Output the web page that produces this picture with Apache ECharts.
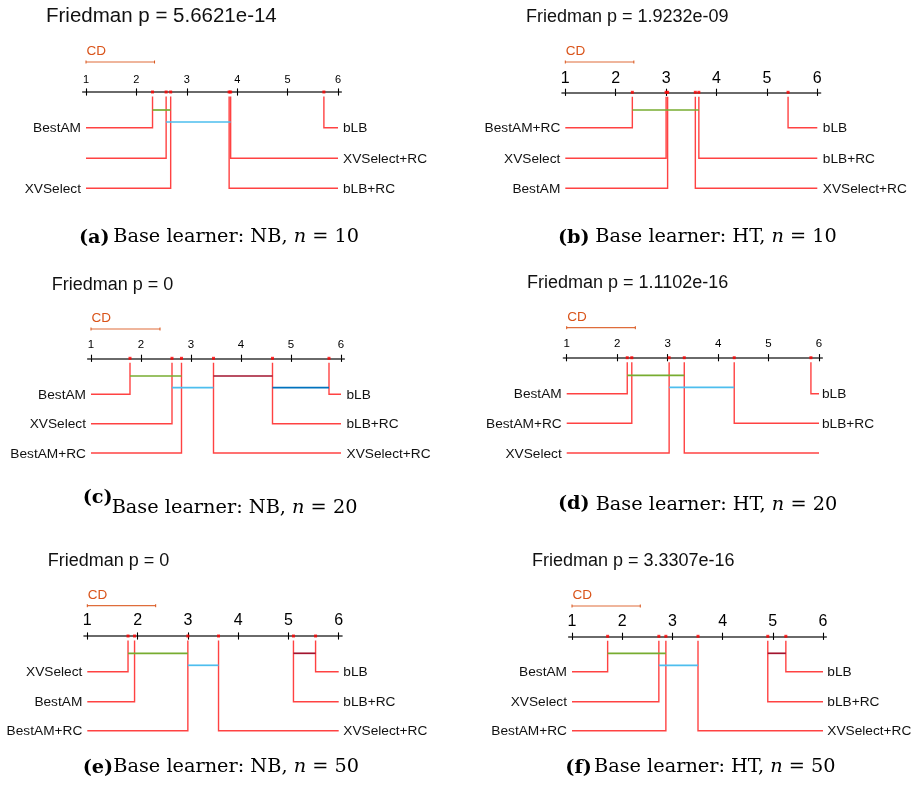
<!DOCTYPE html>
<html>
<head>
<meta charset="utf-8">
<script src="https://cdn.jsdelivr.net/npm/echarts@6/dist/echarts.min.js"></script>
<style>
  html, body { margin: 0; padding: 0; background: #ffffff; }
  #chart { width: 916px; height: 791px; }
</style>
</head>
<body>
<div id="chart"></div>
<script>
// ---- Data ---------------------------------------------------------------
const tags = ['(a)', '(b)', '(c)', '(d)', '(e)', '(f)'];
const learners = ['NB', 'HT', 'NB', 'HT', 'NB', 'HT'];
const sampleSizes = [10, 10, 20, 20, 50, 50];
const friedmanP = ['5.6621e-14', '1.9232e-09', '0', '1.1102e-16', '0', '3.3307e-16'];
const tickValues = [1, 2, 3, 4, 5, 6];
const criticalDiff = [1.36, 1.36, 1.38, 1.36, 1.36, 1.36];

// methods listed by ascending average rank; cliques are index pairs [first, last]
const methodsA = ['BestAM', '', 'XVSelect', 'bLB+RC', 'XVSelect+RC', 'bLB'];
const ranksA = [2.32, 2.59, 2.68, 3.84, 3.87, 5.72];
const cliquesA = [[0, 2], [1, 4]];

const methodsB = ['BestAM+RC', 'XVSelect', 'BestAM', 'XVSelect+RC', 'bLB+RC', 'bLB'];
const ranksB = [2.33, 3.00, 3.03, 3.58, 3.65, 5.42];
const cliquesB = [[0, 4]];

const methodsC = ['BestAM', 'XVSelect', 'BestAM+RC', 'XVSelect+RC', 'bLB+RC', 'bLB'];
const ranksC = [1.78, 2.62, 2.81, 3.45, 4.63, 5.76];
const cliquesC = [[0, 2], [1, 3], [3, 4], [4, 5]];

const methodsD = ['BestAM', 'BestAM+RC', 'XVSelect', '', 'bLB+RC', 'bLB'];
const ranksD = [2.20, 2.29, 3.03, 3.33, 4.32, 5.84];
const cliquesD = [[0, 3], [2, 4]];

const methodsE = ['XVSelect', 'BestAM', 'BestAM+RC', 'XVSelect+RC', 'bLB+RC', 'bLB'];
const ranksE = [1.81, 1.94, 3.00, 3.61, 5.10, 5.54];
const cliquesE = [[0, 2], [2, 3], [4, 5]];

const methodsF = ['BestAM', 'XVSelect', 'BestAM+RC', 'XVSelect+RC', 'bLB+RC', 'bLB'];
const ranksF = [1.71, 2.73, 2.87, 3.51, 4.90, 5.26];
const cliquesF = [[0, 2], [1, 3], [4, 5]];

const allMethods = [methodsA, methodsB, methodsC, methodsD, methodsE, methodsF];
const allRanks = [ranksA, ranksB, ranksC, ranksD, ranksE, ranksF];
const allCliques = [cliquesA, cliquesB, cliquesC, cliquesD, cliquesE, cliquesF];

// ---- Layout (page pixels) ------------------------------------------------
const panels = [
  { x1: 86,    x6: 338,   axisY: 92,    tickSize: 11,   tickMargin: 6.5,
    titleX: 46,    titleY: 16.5,  titleSize: 20.5, cdBarY: 62,
    rows: [127.7, 158.3, 188.3], levels: [110, 122], gapR: 5,
    tagX: 79,    tagY: 237.5, textX: 113.3, textY: 237 },
  { x1: 565.3, x6: 817.3, axisY: 92.3,  tickSize: 16,   tickMargin: 6,
    titleX: 526,   titleY: 17.2,  titleSize: 18,   cdBarY: 62,
    rows: [127.7, 158.3, 188.3], levels: [110, 122], gapR: 5.5,
    tagX: 558,   tagY: 237.5, textX: 595.3, textY: 237 },
  { x1: 91,    x6: 341,   axisY: 358.3, tickSize: 11.5, tickMargin: 7,
    titleX: 51.7,  titleY: 284.8, titleSize: 18,   cdBarY: 329,
    rows: [394.3, 423.7, 453], levels: [376, 387.7], gapR: 5.5,
    tagX: 82.7,  tagY: 497.5, textX: 111.7, textY: 507.7 },
  { x1: 566.7, x6: 819,   axisY: 357.7, tickSize: 11.5, tickMargin: 7.5,
    titleX: 527,   titleY: 283.3, titleSize: 18,   cdBarY: 327.7,
    rows: [393.7, 423.3, 453], levels: [375.3, 387.3], gapR: 3,
    tagX: 558,   tagY: 503.5, textX: 595.7, textY: 504.5 },
  { x1: 87.3,  x6: 338.7, axisY: 636,   tickSize: 16,   tickMargin: 7.8,
    titleX: 47.7,  titleY: 560.8, titleSize: 18,   cdBarY: 605.7,
    rows: [671.7, 701.7, 730.7], levels: [653.3, 665.3], gapR: 4.6,
    tagX: 82.7,  tagY: 767.5, textX: 113.3, textY: 766.5 },
  { x1: 572,   x6: 823,   axisY: 636.3, tickSize: 16,   tickMargin: 6.6,
    titleX: 532,   titleY: 560.8, titleSize: 18,   cdBarY: 606,
    rows: [671.7, 701.7, 730.7], levels: [653.3, 665.3], gapR: 4.3,
    tagX: 565.3, tagY: 767.5, textX: 594,   textY: 766.5 }
];

const SANS = '"Liberation Sans", Arial, Helvetica, sans-serif';
const SERIF = '"DejaVu Serif", "Liberation Serif", serif';
const LINE_RED = 'rgba(255,25,25,0.82)';
const DOT_RED = '#ff0000';
const CD_COLOR = '#D95319';
const CLIQUE_COLORS = ['#77AC30', '#4DBEEE', '#A2142F', '#0072BD'];
const OVERHANG = 3.3;   // axis line reaches a little past ranks 1 and 6
const STEM_GAP = 4.5;   // gap between the axis and the top of each connector
const LABEL_GAP_L = 5;
const LABEL_SIZE = 13.7;
const CAPTION_SIZE = 19.3;

// stack overlapping cliques onto separate levels
function cliqueLevels(segs) {
  const used = [];
  return segs.map(([a, b]) => {
    let l = 0;
    while ((used[l] || []).some(([c, d]) => !(b < c || a > d))) l++;
    (used[l] = used[l] || []).push([a, b]);
    return l;
  });
}

const grid = [], xAxis = [], yAxis = [], series = [], graphic = [];

panels.forEach((P, k) => {
  const ppr = (P.x6 - P.x1) / 5;
  const pad = OVERHANG / ppr;
  const depth = P.rows[2] - P.axisY;
  const methods = allMethods[k];
  const ranks = allRanks[k];

  grid.push({ left: P.x1 - OVERHANG, width: P.x6 - P.x1 + 2 * OVERHANG,
              top: P.axisY, height: depth, containLabel: false });

  // main rank axis: line, upward ticks and numbers
  xAxis.push({
    gridIndex: k, type: 'value', position: 'top', min: 1 - pad, max: 6 + pad,
    axisLine: { show: true, onZero: false, lineStyle: { color: '#3a3a3a', width: 1.6 } },
    axisTick: { show: true, customValues: tickValues, length: 3.6,
                lineStyle: { color: '#000', width: 1.1 } },
    axisLabel: { show: true, customValues: tickValues, margin: P.tickMargin,
                 fontSize: P.tickSize, color: '#000', fontFamily: SANS },
    splitLine: { show: false }
  });
  // companion axis that adds the downward half of each tick
  xAxis.push({
    gridIndex: k, type: 'value', position: 'top', min: 1 - pad, max: 6 + pad,
    axisLine: { show: false, onZero: false },
    axisTick: { show: true, inside: true, customValues: tickValues, length: 3.6,
                lineStyle: { color: '#000', width: 1.1 } },
    axisLabel: { show: false },
    splitLine: { show: false }
  });
  yAxis.push({ gridIndex: k, type: 'value', inverse: true, min: 0, max: depth, show: false });

  const xi = 2 * k;

  // elbow connectors from each average rank to its name
  series.push({
    type: 'custom', xAxisIndex: xi, yAxisIndex: k, z: 3, silent: true,
    data: ranks.map((r, i) => [r, i]),
    renderItem: (params, api) => {
      const r = api.value(0), i = api.value(1);
      const left = i < 3;
      const row = left ? i : 5 - i;
      const off = P.rows[row] - P.axisY;
      const top = api.coord([r, 0]);
      const bend = api.coord([r, off]);
      const end = api.coord([left ? 1 : 6, off]);
      return {
        type: 'group',
        children: [
          { type: 'polyline',
            shape: { points: [[top[0], top[1] + STEM_GAP], bend, end] },
            style: { stroke: LINE_RED, lineWidth: 1.4, fill: null } },
          { type: 'text', x: left ? end[0] - LABEL_GAP_L : end[0] + P.gapR, y: end[1] + 1,
            style: { text: methods[i], fill: '#111', fontSize: LABEL_SIZE, fontFamily: SANS,
                     align: left ? 'right' : 'left', verticalAlign: 'middle' } }
        ]
      };
    }
  });

  // cliques of methods that are not significantly different
  const segs = allCliques[k].map(([a, b]) => [ranks[a], ranks[b]]);
  const lv = cliqueLevels(segs);
  series.push({
    type: 'custom', xAxisIndex: xi, yAxisIndex: k, z: 4, silent: true,
    data: segs.map((s, j) => [s[0], s[1], lv[j]]),
    renderItem: (params, api) => {
      const off = P.levels[api.value(2)] - P.axisY;
      const a = api.coord([api.value(0), off]);
      const b = api.coord([api.value(1), off]);
      return { type: 'line', shape: { x1: a[0], y1: a[1], x2: b[0], y2: b[1] },
               style: { stroke: CLIQUE_COLORS[params.dataIndex % CLIQUE_COLORS.length], lineWidth: 1.7 } };
    }
  });

  // critical difference bar
  series.push({
    type: 'custom', xAxisIndex: xi, yAxisIndex: k, z: 4, silent: true,
    data: [[1, 1 + criticalDiff[k]]],
    renderItem: (params, api) => {
      const off = P.cdBarY - P.axisY;
      const a = api.coord([api.value(0), off]);
      const b = api.coord([api.value(1), off]);
      return {
        type: 'group',
        children: [
          { type: 'line', shape: { x1: a[0], y1: a[1], x2: b[0], y2: b[1] },
            style: { stroke: CD_COLOR, lineWidth: 1.2, opacity: 0.85 } },
          { type: 'line', shape: { x1: a[0], y1: a[1] - 1.5, x2: a[0], y2: a[1] + 1.5 },
            style: { stroke: CD_COLOR, lineWidth: 1 } },
          { type: 'line', shape: { x1: b[0], y1: b[1] - 1.5, x2: b[0], y2: b[1] + 1.5 },
            style: { stroke: CD_COLOR, lineWidth: 1 } },
          { type: 'text', x: a[0] + 0.5, y: a[1] - 10.3,
            style: { text: 'CD', fill: CD_COLOR, fontSize: 13.5, fontFamily: SANS,
                     align: 'left', verticalAlign: 'middle' } }
        ]
      };
    }
  });

  // average-rank markers on the axis
  series.push({
    type: 'scatter', xAxisIndex: xi, yAxisIndex: k, z: 6, silent: true,
    symbol: 'rect', symbolSize: 3,
    itemStyle: { color: DOT_RED },
    data: ranks.map(r => [r, 0])
  });

  // panel heading
  graphic.push({
    type: 'text', x: P.titleX, y: P.titleY, silent: true,
    style: { text: 'Friedman p = ' + friedmanP[k], fill: '#111',
             fontSize: P.titleSize, fontFamily: SANS, align: 'left', verticalAlign: 'middle' }
  });
  // subfigure caption
  graphic.push({
    type: 'text', x: P.tagX, y: P.tagY, silent: true,
    style: { text: tags[k], fill: '#000', fontSize: CAPTION_SIZE, fontWeight: 'bold',
             fontFamily: SERIF, align: 'left', verticalAlign: 'middle' }
  });
  graphic.push({
    type: 'text', x: P.textX, y: P.textY, silent: true,
    style: {
      text: '{t|Base learner: ' + learners[k] + ', }{i|n}{t| = ' + sampleSizes[k] + '}',
      align: 'left', verticalAlign: 'middle',
      rich: {
        t: { fontSize: CAPTION_SIZE, fontFamily: SERIF, fill: '#000' },
        i: { fontSize: CAPTION_SIZE, fontFamily: SERIF, fontStyle: 'italic', fill: '#000' }
      }
    }
  });
});

const chart = echarts.init(document.getElementById('chart'), null, { renderer: 'canvas' });
chart.setOption({
  animation: false,
  backgroundColor: '#ffffff',
  grid, xAxis, yAxis, series, graphic
});
</script>
</body>
</html>
